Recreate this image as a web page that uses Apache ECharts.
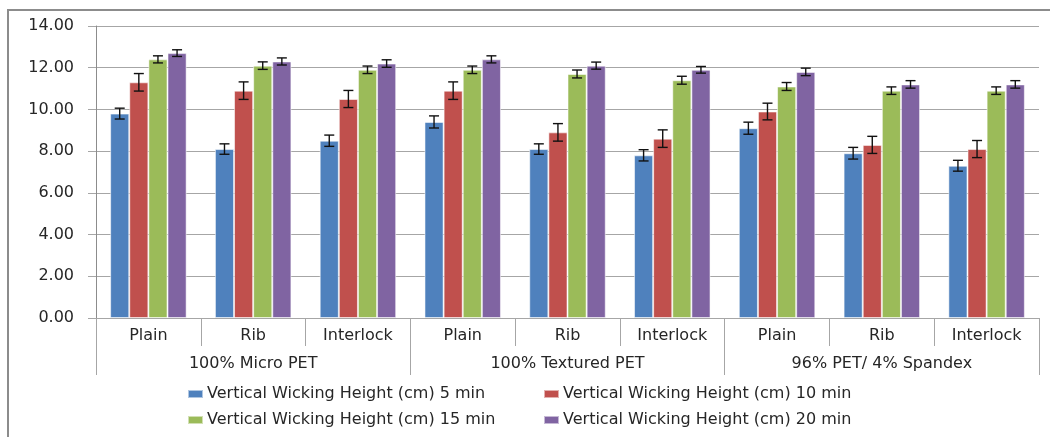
<!DOCTYPE html>
<html>
<head>
<meta charset="utf-8">
<script src="https://cdn.jsdelivr.net/npm/echarts@6/dist/echarts.min.js"></script>
<style>
html,body{margin:0;padding:0;background:#fff;}
#chart{width:1050px;height:437px;}
</style>
</head>
<body>
<div id="chart"></div>
<script>
const categories = ['Plain','Rib','Interlock','Plain','Rib','Interlock','Plain','Rib','Interlock'];
const groups = ['100% Micro PET','100% Textured PET','96% PET/ 4% Spandex'];
const seriesNames = [
  'Vertical Wicking Height (cm) 5 min',
  'Vertical Wicking Height (cm) 10 min',
  'Vertical Wicking Height (cm) 15 min',
  'Vertical Wicking Height (cm) 20 min'
];
const min5  = [9.8, 8.1, 8.5, 9.4, 8.1, 7.8, 9.1, 7.9, 7.3];
const min10 = [11.3, 10.9, 10.5, 10.9, 8.9, 8.6, 9.9, 8.3, 8.1];
const min15 = [12.4, 12.1, 11.9, 11.9, 11.7, 11.4, 11.1, 10.9, 10.9];
const min20 = [12.7, 12.3, 12.2, 12.4, 12.1, 11.9, 11.8, 11.2, 11.2];
const err5  = [0.26, 0.25, 0.27, 0.29, 0.25, 0.27, 0.29, 0.28, 0.26];
const err10 = [0.42, 0.42, 0.41, 0.42, 0.42, 0.42, 0.40, 0.41, 0.41];
const err15 = [0.17, 0.18, 0.18, 0.18, 0.19, 0.19, 0.19, 0.18, 0.18];
const err20 = [0.16, 0.17, 0.18, 0.17, 0.17, 0.16, 0.18, 0.18, 0.18];
const yTicks = {min: 0, max: 14, interval: 2};

const colors = ['#4F81BD', '#C0504D', '#9BBB59', '#8064A2'];
const values = [min5, min10, min15, min20];
const errors = [err5, err10, err15, err20];
const FONT = 'DejaVu Sans';
const TEXT = '#262626';
const GRID = '#a6a6a6';
const CAT_GAP = 0.27;

const chart = echarts.init(document.getElementById('chart'));

const barSeries = values.map((vals, i) => ({
  name: seriesNames[i],
  type: 'bar',
  xAxisIndex: 0,
  data: vals,
  barGap: '0%',
  barCategoryGap: (CAT_GAP * 100) + '%',
  itemStyle: {color: colors[i], borderColor: 'rgba(255,255,255,0.55)', borderWidth: 1},
  emphasis: {disabled: true},
  z: 2
}));

const errSeries = values.map((vals, i) => ({
  name: 'err' + i,
  type: 'custom',
  xAxisIndex: 0,
  z: 5,
  silent: true,
  clip: false,
  encode: {x: 0, y: 1},
  data: vals.map((v, k) => [k, v, errors[i][k]]),
  renderItem: function (params, api) {
    const x = api.value(0), v = api.value(1), e = api.value(2);
    const catW = api.size([1, 0])[0];
    const barW = catW * (1 - CAT_GAP) / 4;
    const cx = api.coord([x, v])[0] + (i - 1.5) * barW;
    const yt = api.coord([x, v + e])[1];
    const yb = api.coord([x, v - e])[1];
    const cap = 5;
    const st = {stroke: '#111', lineWidth: 1.4};
    return {
      type: 'group',
      children: [
        {type: 'line', shape: {x1: cx, y1: yt, x2: cx, y2: yb}, style: st},
        {type: 'line', shape: {x1: cx - cap, y1: yt, x2: cx + cap, y2: yt}, style: st},
        {type: 'line', shape: {x1: cx - cap, y1: yb, x2: cx + cap, y2: yb}, style: st}
      ]
    };
  }
}));

const legendPos = [[187, 386], [543, 386], [187, 412], [543, 412]];
const legends = seriesNames.map((n, i) => ({
  data: [n],
  left: legendPos[i][0],
  top: legendPos[i][1],
  padding: 0,
  itemGap: 0,
  itemWidth: 15,
  itemHeight: 8,
  icon: 'rect',
  selectedMode: false,
  textStyle: {fontFamily: FONT, fontSize: 16, color: TEXT, padding: [0, 0, 0, -1]}
}));

chart.setOption({
  animation: false,
  backgroundColor: '#fff',
  color: colors,
  graphic: [{
    type: 'polyline',
    shape: {points: [[8, 437], [8, 10], [1050, 10]]},
    style: {fill: 'none', stroke: '#8c8c8c', lineWidth: 2},
    silent: true,
    z: -10
  }],
  legend: legends,
  grid: {left: 96, right: 11, top: 26, bottom: 119, containLabel: false},
  xAxis: [{
    type: 'category',
    data: categories,
    position: 'bottom',
    axisLine: {show: true, lineStyle: {color: GRID, width: 1}},
    axisTick: {show: true, length: 28, interval: 0, alignWithLabel: false, lineStyle: {color: GRID}},
    axisLabel: {interval: 0, margin: 10, fontFamily: FONT, fontSize: 16, color: TEXT},
    splitLine: {show: false}
  }, {
    type: 'category',
    data: groups,
    position: 'bottom',
    axisLine: {show: false},
    axisTick: {show: true, length: 57, interval: 0, alignWithLabel: false, lineStyle: {color: GRID}},
    axisLabel: {interval: 0, margin: 38, fontFamily: FONT, fontSize: 16, color: TEXT},
    splitLine: {show: false}
  }],
  yAxis: {
    type: 'value',
    min: yTicks.min,
    max: yTicks.max,
    interval: yTicks.interval,
    axisLine: {show: true, lineStyle: {color: '#8c8c8c', width: 1}},
    axisTick: {show: true, length: 8, lineStyle: {color: GRID}},
    axisLabel: {margin: 22, fontFamily: FONT, fontSize: 16, color: TEXT, formatter: v => v.toFixed(2)},
    splitLine: {show: true, lineStyle: {color: GRID, width: 1.2}}
  },
  series: barSeries.concat(errSeries)
});
</script>
</body>
</html>
